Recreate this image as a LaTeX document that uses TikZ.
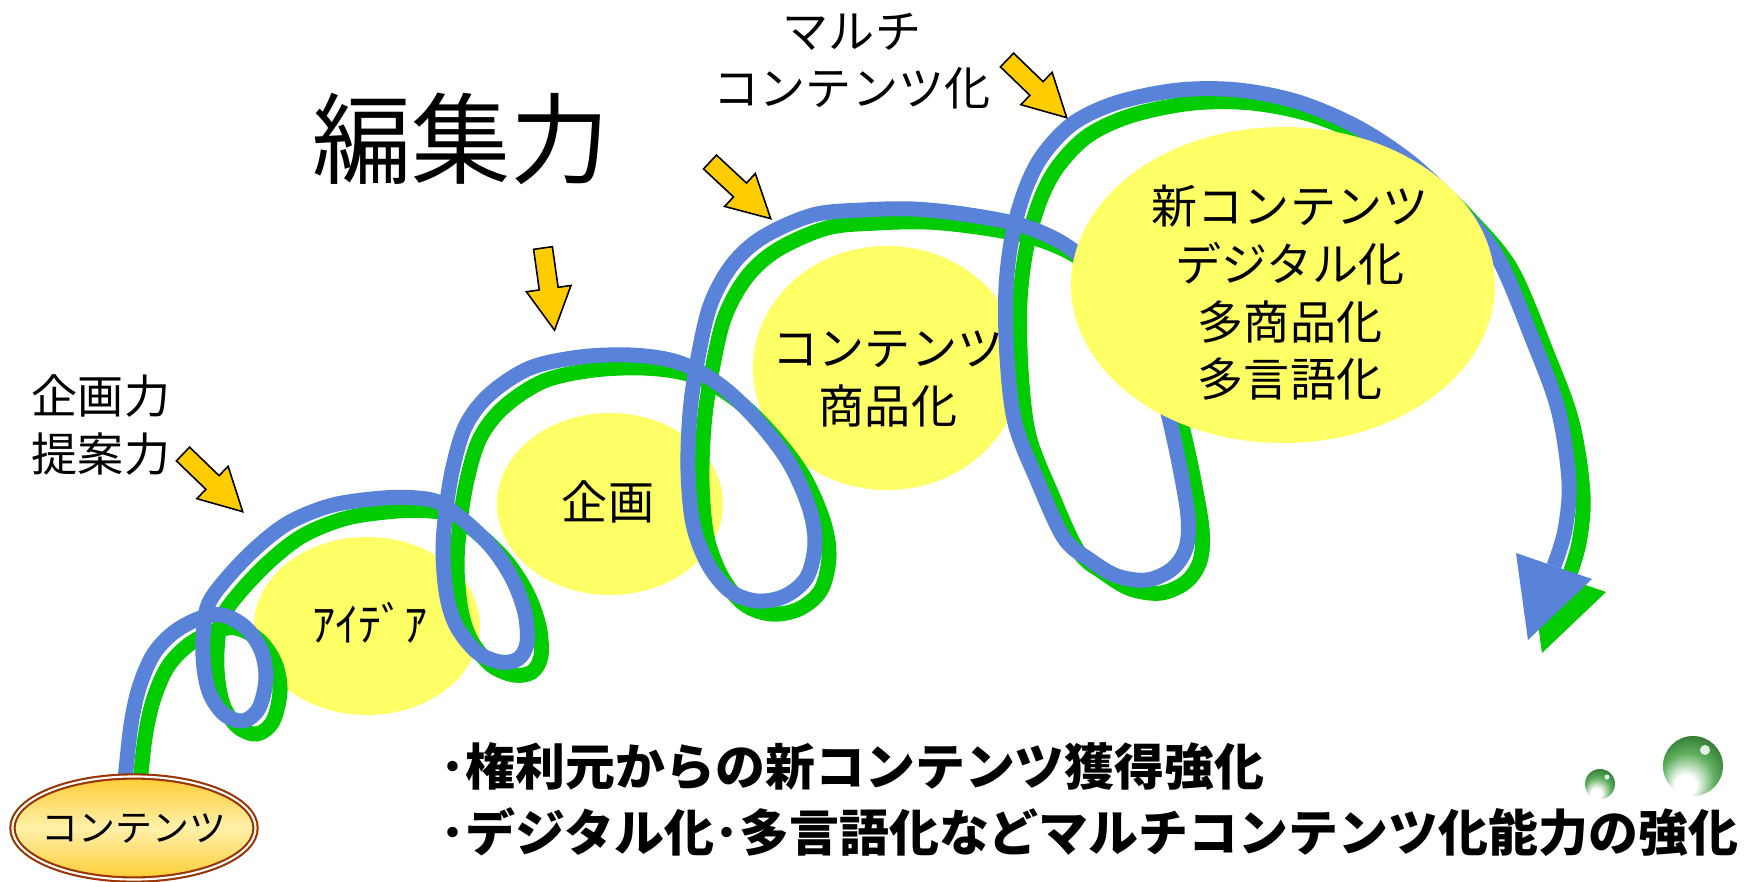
\documentclass[tikz,border=0pt]{standalone}
\usepackage{fontspec}
\newfontfamily\jp{Noto Sans CJK JP}
\usetikzlibrary{shapes.geometric}

\definecolor{spiralblue}{RGB}{89,131,216}
\definecolor{spiralgreen}{RGB}{0,204,0}
\definecolor{bubble}{RGB}{255,255,102}
\definecolor{arrowfill}{RGB}{255,204,0}
\definecolor{rim}{RGB}{153,51,0}
\definecolor{tanA}{RGB}{255,204,51}
\definecolor{tanB}{RGB}{255,240,170}
\definecolor{dropmid}{RGB}{96,176,96}
\definecolor{dropdark}{RGB}{28,98,30}

% glassy green drop: white glow low on the left, dark rim
\pgfdeclareradialshading{droplet}{\pgfpoint{-8bp}{-20bp}}{%
  color(0bp)=(white); color(9bp)=(white); color(22bp)=(dropmid);
  color(38bp)=(dropdark); color(50bp)=(dropdark)}

\begin{document}
\begin{tikzpicture}[x=0.01cm, y=-0.01cm,
  label/.style={font=\jp\fontsize{13.1pt}{16.4pt}\selectfont, align=center, inner sep=0pt},
  headline/.style={font=\jp\fontsize{28.2pt}{32pt}\selectfont, inner sep=0pt},
  remark/.style={font=\jp\bfseries\fontsize{14.2pt}{17pt}\selectfont, anchor=west, inner sep=0pt},
  coil/.style={line width=4.27pt, line join=round},
  pointerstyle/.style={fill=arrowfill, draw=black, line width=0.45pt, line join=miter},
  pointer/.pic={\path[pointerstyle] (0,-9.5) -- (41,-9.5) -- (41,-22.5) -- (83,0)
                 -- (41,22.5) -- (41,9.5) -- (0,9.5) -- cycle;},
  contentsbox/.style={ellipse, draw=rim, double=white, line width=0.6pt,
    double distance=0.6pt, top color=tanA, bottom color=tanA, middle color=tanB,
    minimum width=2.43cm, minimum height=1.03cm, inner sep=0pt},
]
\fill[white] (0,0) rectangle (1750,881);
\useasboundingbox (0,0) rectangle (1750,881);

% stage bubbles lying under the coil
\fill[bubble] (367,626) ellipse [x radius=113, y radius=89];
\fill[bubble] (610,504) ellipse [x radius=113, y radius=91];
\fill[bubble] (887,368) ellipse [x radius=134, y radius=122];

% the coil: green shadow first, blue line on top
\foreach \dx/\dy/\col in {14/13/spiralgreen, 0/0/spiralblue} {
  \begin{scope}[shift={(\dx,\dy)}]
    \draw[coil, \col] plot[smooth, tension=0.55] coordinates {
      (123,800) (126,770) (131,725) (139,688) (153,655) (173,633) (198,619)
      (222,615) (245,627) (261,650) (266,678) (259,708) (243,721) (224,714)
      (210,694) (204,668) (203,638) (208,605) (227,578) (257,547) (290,522)
      (333,505) (383,498) (417,498) (440,503) (467,523) (493,549) (513,580)
      (525,613) (527,643) (518,659) (500,662) (477,652) (457,627) (447,597)
      (443,553) (446,510) (453,467) (466,425) (490,394) (530,368) (580,357)
      (630,355) (670,360) (700,372) (731,394) (763,427) (790,464) (809,507)
      (815,543) (807,577) (785,596) (757,601) (730,591) (708,564) (693,524)
      (688,470) (690,413) (697,363) (710,306) (732,265) (763,237) (813,215)
      (863,210) (913,209) (963,214) (1013,223) (1047,235) (1075,252)
      (1108,285) (1137,330) (1157,372) (1168,413) (1179,463) (1188,516)
      (1186,548) (1172,569) (1147,580) (1117,576) (1090,560) (1064,538)
      (1038,482) (1015,423) (1007,357) (1006,288) (1013,232) (1027,185)
      (1045,152) (1075,122) (1119,102) (1179,90) (1238,90) (1298,102)
      (1357,127) (1410,162) (1455,205) (1497,256) (1532,338) (1558,409)
      (1569,481) (1565,530) (1554,566)};
    \fill[\col] (1516,553) -- (1592,579) -- (1528,640) -- cycle;
  \end{scope}
}

% last bubble sits over the coil
\fill[bubble] (1283,285) ellipse [x radius=212, y radius=158];

% starting point
\node[contentsbox] (contents) at (134,828) {};
\node[font=\jp\fontsize{10.5pt}{12pt}\selectfont, inner sep=0pt] (contentslabel)
  at (contents.center) {コンテンツ};

% texts
\node[headline] (editing) at (461,139) {編集力};
\node[label] (planning) at (101,425) {企画力\\提案力};
\node[label] (multi) at (852,61) {マルチ\\コンテンツ化};
\node[label] (idea) at (370,623) {ｱｲﾃﾞｱ};
\node[label] (plan) at (608,502) {企画};
\node[label] (product) at (888,379) {コンテンツ\\商品化};
\node[label] (newc) at (1290,293) {新コンテンツ\\デジタル化\\多商品化\\多言語化};
\node[remark] (note1) at (440,766) {･権利元からの新コンテンツ獲得強化};
\node[remark] (note2) at (440,832) {･デジタル化･多言語化などマルチコンテンツ化能力の強化};

% pointing block arrows
\pic (ptrA) [rotate=-44] at (183,454) {pointer};
\pic (ptrB) [rotate=-82] at (543,248) {pointer};
\pic (ptrC) [rotate=-43] at (710,162) {pointer};
\pic (ptrD) [rotate=-44] at (1007,60) {pointer};

% water drops
\shade[shading=droplet] (1693,766) circle [radius=30];
\fill[white, opacity=0.85] (1705,750) circle [radius=5];
\shade[shading=droplet] (1600,784) circle [radius=15];
\fill[white, opacity=0.85] (1607,777) circle [radius=2.5];
\end{tikzpicture}
\end{document}
